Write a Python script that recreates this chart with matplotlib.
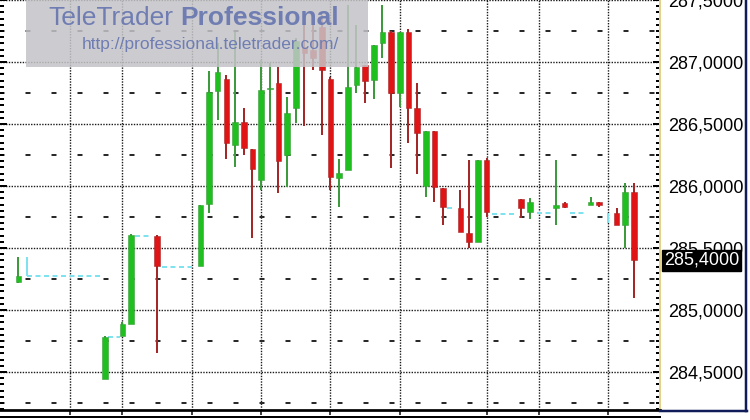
import matplotlib
matplotlib.use('Agg')
import matplotlib.pyplot as plt
from matplotlib.patches import Rectangle
from matplotlib.lines import Line2D
from matplotlib.ticker import MultipleLocator, FixedLocator
from matplotlib.transforms import blended_transform_factory

plt.rcParams['font.family'] = ['Liberation Sans', 'DejaVu Sans']
plt.rcParams['lines.scale_dashes'] = False

# ---------------- data ----------------
slots = [0, 10, 12, 13, 16, 21, 22, 23, 24, 25, 26, 27, 28, 29, 30, 31, 32, 33, 34, 35,
         36, 37, 38, 39, 40, 41, 42, 43, 44, 45, 46, 47, 48, 49, 51, 52, 53, 54, 58, 59,
         62, 63, 66, 67, 69, 70, 71]
opens = [285.226, 284.440, 284.790, 284.890, 285.600, 285.355, 285.855, 286.770, 286.860, 286.330,
         286.520, 286.298, 286.048, 286.780, 286.828, 286.250, 286.627, 287.123, 287.097, 287.285,
         286.860, 286.064, 286.129, 286.815, 286.976, 286.855, 287.150, 287.240, 286.748, 287.244,
         286.627, 286.000, 286.446, 285.981, 285.820, 285.623, 285.546, 286.210, 285.893, 285.793,
         285.820, 285.860, 285.847, 285.869, 285.785, 285.685, 285.954]
highs = [285.430, 284.790, 284.906, 285.610, 285.605, 285.850, 286.930, 287.150, 286.895, 287.245,
         286.627, 286.300, 287.016, 286.990, 286.962, 286.720, 287.190, 287.340, 287.340, 287.380,
         286.880, 286.215, 287.460, 287.298, 286.976, 287.137, 287.460, 287.250, 287.240, 287.270,
         286.830, 286.446, 286.446, 285.981, 285.968, 286.210, 286.210, 286.223, 285.893, 285.906,
         286.210, 285.873, 285.909, 285.869, 285.820, 286.022, 286.027]
lows = [285.220, 284.440, 284.790, 284.890, 284.650, 285.355, 285.785, 286.530, 286.215, 286.156,
        286.250, 285.578, 285.968, 286.520, 285.941, 285.995, 286.506, 286.484, 286.935, 286.410,
        285.968, 285.833, 286.129, 286.752, 286.667, 286.699, 287.030, 286.143, 286.640, 286.344,
        286.100, 285.914, 285.873, 285.685, 285.631, 285.497, 285.546, 285.752, 285.740, 285.734,
        285.685, 285.820, 285.847, 285.830, 285.685, 285.497, 285.100]
closes = [285.274, 284.782, 284.887, 285.605, 285.355, 285.847, 286.760, 286.920, 286.344, 286.520,
          286.304, 286.135, 286.774, 286.790, 286.204, 286.591, 287.170, 287.070, 287.030, 286.935,
          286.070, 286.107, 286.800, 286.962, 286.849, 287.137, 287.244, 286.748, 287.240, 286.627,
          286.430, 286.446, 285.990, 285.828, 285.631, 285.550, 286.210, 285.793, 285.820, 285.869,
          285.847, 285.828, 285.873, 285.847, 285.685, 285.954, 285.400]

# flat (no-trade) segments drawn in cyan
gap_start = [1.0, 10.4, 13.5, 16.6, 49.5, 54.6, 59.8, 63.6]
gap_end = [9.4, 11.7, 15.4, 20.0, 50.4, 57.4, 61.5, 65.4]
gap_level = [285.274, 284.782, 285.600, 285.345, 285.820, 285.775, 285.780, 285.780]
cyan_slot = [1, 68]
cyan_low = [285.274, 285.700]
cyan_high = [285.430, 285.785]

major_levels = [284.0, 284.5, 285.0, 285.5, 286.0, 286.5, 287.0, 287.5]
minor_levels = [284.25, 284.75, 285.25, 285.75, 286.25, 286.75, 287.25]
time_ticks = [6, 12, 20, 28, 36, 44, 54, 60, 68]

# ---------------- figure ----------------
PX = 72 / 100.0  # points per pixel
fig = plt.figure(figsize=(7.5, 4.2), dpi=100)
fig.patch.set_facecolor('white')
ax = fig.add_axes([0, 10 / 420, 660 / 750, 410 / 420])
ax.set_facecolor('white')
ax.set_xlim(-2.11, 74.01)
ax.set_ylim(284.194, 287.5)

# grid
for lvl in major_levels:
    ax.axhline(lvl, color='#1a1a1a', lw=1.0, ls=(0, (1.0, 1.0)), zorder=1)
for t in time_ticks:
    ax.axvline(t, color='#1a1a1a', lw=1.0, ls=(0, (1.0, 1.0)), zorder=1)
for lvl in minor_levels:
    ax.axhline(lvl, color='#2a2a2a', lw=2 * PX, ls=(0.5 * PX, (5 * PX, 21 * PX)), zorder=1)

# cyan gap lines
for s, e, l in zip(gap_start, gap_end, gap_level):
    ax.plot([s, e], [l, l], color='#7fe3ef', lw=2 * PX, ls=(0, (5 * PX, 3.5 * PX)), zorder=2)
ax.vlines(cyan_slot, cyan_low, cyan_high, color='#7fe3ef', lw=2 * PX, zorder=2)

# candles
for x, o, h, l, c in zip(slots, opens, highs, lows, closes):
    up = c >= o
    body = '#1fbf1f' if up else '#e01414'
    wick = '#3d9a3d' if up else '#a52828'
    ax.vlines(x, l, h, color=wick, lw=2 * PX, zorder=3)
    hgt = max(abs(c - o), 0.012)
    bot = min(o, c) if abs(c - o) >= 0.012 else (o + c) / 2 - 0.006
    ax.bar(x, hgt, bottom=bot, width=0.64, color=body, edgecolor=wick, linewidth=0.4, zorder=4)

# axes / ticks
ax.yaxis.set_major_locator(FixedLocator(major_levels))
ax.yaxis.set_minor_locator(MultipleLocator(0.05))
ax.set_yticklabels([f"{v:.4f}".replace('.', ',') for v in major_levels])
ax.tick_params(axis='y', which='both', left=True, right=True, labelleft=False, labelright=True,
               direction='in', colors='black')
ax.tick_params(axis='y', which='major', length=7 * PX, width=2 * PX, labelsize=13, pad=5.5)
ax.tick_params(axis='y', which='minor', length=4 * PX, width=2 * PX)
ax.set_xticks(time_ticks)
ax.tick_params(axis='x', direction='out', length=5 * PX, width=1.5 * PX, labelbottom=False,
               colors='black')

ax.spines['top'].set_visible(False)
ax.spines['left'].set_visible(False)
ax.spines['right'].set_color('#e2d28a')
ax.spines['right'].set_linewidth(2 * PX)
ax.spines['bottom'].set_color('black')
ax.spines['bottom'].set_linewidth(2.7 * PX)

# current price box
trans = blended_transform_factory(ax.transAxes, ax.transData)
ax.text(1.006, closes[-1], f"{closes[-1]:.4f}".replace('.', ','), transform=trans,
        ha='left', va='center', color='white', fontsize=13,
        bbox=dict(boxstyle='square,pad=0.12', fc='black', ec='black'),
        clip_on=False, zorder=10)

# frame pieces
fig.add_artist(Line2D([0, 660 / 750], [1 - 417 / 420] * 2, color='black', lw=2 * PX))
fig.add_artist(Line2D([746 / 750] * 2, [1, 1 - 411 / 420], color='#101c5a', lw=2.5 * PX))
fig.add_artist(Line2D([660 / 750, 747 / 750], [1 - 410.5 / 420] * 2, color='#101c5a', lw=2.5 * PX))

# watermark
fig.add_artist(Rectangle((26 / 750, 1 - 66.7 / 420), 342 / 750, 66.7 / 420,
                         transform=fig.transFigure, facecolor='#c4c4c8', alpha=0.85,
                         edgecolor='none', zorder=5))
fig.text(48 / 750, 1 - 25 / 420, 'TeleTrader', fontsize=19, color='#6f7db2',
         ha='left', va='baseline', zorder=6)
fig.text(180 / 750, 1 - 25 / 420, 'Professional', fontsize=19, fontweight='bold',
         color='#6f7db2', ha='left', va='baseline', zorder=6)
fig.text(82 / 750, 1 - 49 / 420, 'http://professional.teletrader.com/', fontsize=12.5,
         color='#6f7db2', ha='left', va='baseline', zorder=6)

fig.savefig('out.png', dpi=100)
